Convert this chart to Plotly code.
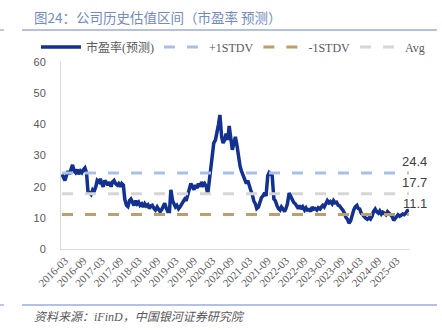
import pandas as pd
import plotly.graph_objects as go

# ---- data (semi-monthly readings, 1st & 15th of each month) ----
pe_2016 = [24, 23, 22, 23.5, 25, 24, 26, 27, 25, 24.5, 25.5, 24, 25, 24.5, 25.5, 26, 24.5, 18.5, 18, 17.5, 19, 18.5]
pe_2017 = [20, 22, 21.5, 22.5, 21, 20, 22, 21, 20.5, 21.5, 20, 21.5, 22, 21, 20.5, 21, 20, 21, 20.5, 16, 14, 13.6, 15.5, 16]
pe_2018 = [15, 14, 15.5, 14.5, 15, 14, 14.5, 13.5, 14.5, 13.8, 14.2, 13, 13.8, 14, 13, 12.5, 13.5, 12.8, 12, 12.6, 13.5, 14.7, 13, 12]
pe_2019 = [12, 19, 15.5, 14.7, 13.5, 14, 12.9, 13.5, 14.5, 15, 16, 15.5, 17, 19, 21, 20, 19, 20.5, 19.5, 21, 20, 21.5, 20.5, 21]
pe_2020 = [20, 17.5, 22, 25, 31, 34, 35, 37, 40, 43, 36, 34, 35, 37, 35, 39.5, 34, 31.8, 34, 36, 33, 29, 26.5, 25]
pe_2021 = [23.5, 22, 21, 22, 20, 19, 17.5, 15.5, 14.5, 13, 13.5, 15, 16.5, 17, 18, 17, 23.5, 24.5, 24, 23.5, 16, 15.5, 14, 13]
pe_2022 = [12.5, 13.5, 12.8, 12, 13, 14.5, 18, 17, 16, 15, 14.5, 13.5, 13, 14, 12.8, 13.5, 12.5, 13.2, 12.2, 13, 12, 13.5, 12.8, 13]
pe_2023 = [12.5, 13.2, 12.8, 13.5, 14, 13.5, 14.5, 15.5, 14.8, 15.2, 14.5, 15.5, 14.8, 15, 14, 13.8, 13, 12.5, 11.5, 10.2, 9.5, 8.3, 9, 11]
pe_2024 = [12.5, 13.5, 14, 13, 12.8, 11.5, 10.8, 10.4, 9.8, 9.5, 10, 9.6, 10.5, 12, 12.8, 12, 11.5, 12.2, 11.2, 11.8, 11.5, 11, 12, 11.5]
pe_2025 = [11, 10.5, 9.2, 9.8, 10.5, 11, 10.5, 10.8, 11.2, 11, 11.5, 12.3, 12.5]

pe_values = pe_2016 + pe_2017 + pe_2018 + pe_2019 + pe_2020 + pe_2021 + pe_2022 + pe_2023 + pe_2024 + pe_2025
dates = pd.date_range("2016-02-01", periods=len(pe_values), freq="SMS")

plus_std = 24.4
average = 17.7
minus_std = 11.1

series_names = ["市盈率(预测)", "+1STDV", "-1STDV", "Avg"]

# ---- styles ----
SERIF = "Liberation Serif, Times New Roman, Noto Sans CJK SC, serif"
SANS = "Liberation Sans, Arial, Noto Sans CJK SC, sans-serif"
CJK = "Noto Sans CJK SC, sans-serif"
GREY = "#595959"

fig = go.Figure()
fig.add_trace(go.Scatter(x=dates, y=pe_values, mode="lines", name=series_names[0],
                         line=dict(color="#123190", width=3.5)))
fig.add_trace(go.Scatter(x=dates, y=[plus_std] * len(dates), mode="lines", name=series_names[1],
                         line=dict(color="#a9bfe8", width=3, dash="11px,12px")))
fig.add_trace(go.Scatter(x=dates, y=[minus_std] * len(dates), mode="lines", name=series_names[2],
                         line=dict(color="#c29d68", width=3, dash="11px,12px")))
fig.add_trace(go.Scatter(x=dates, y=[average] * len(dates), mode="lines", name=series_names[3],
                         line=dict(color="#d6d6d6", width=3, dash="11px,12px")))

# value labels at the right end of the band lines
for v in (plus_std, average, minus_std):
    fig.add_annotation(x=dates[-1], y=v, text=f"{v}", showarrow=False,
                       xanchor="center", yanchor="middle", xshift=6, yshift=11,
                       font=dict(family=SANS, size=13, color="#404040"))

# title, rules and source
fig.add_annotation(xref="paper", yref="paper", x=-0.0833, y=1.2406, xanchor="left", yanchor="middle",
                   text="图24：公司历史估值区间（市盈率 预测）", showarrow=False,
                   font=dict(family=CJK, size=13.5, color="#728bc2"))
fig.add_annotation(xref="paper", yref="paper", x=-0.0833, y=-0.3636, xanchor="left", yanchor="middle",
                   text="<i>资料来源：iFinD，中国银河证券研究院</i>", showarrow=False,
                   font=dict(family=SERIF, size=12, color=GREY))
for yy in (1.1711, -0.2995):
    fig.add_shape(type="line", xref="paper", yref="paper", x0=-0.1121, x1=1.0805, y0=yy, y1=yy,
                  line=dict(color="#9aaed8", width=1.3))
    fig.add_shape(type="line", xref="paper", yref="paper", x0=-0.1753, x1=-0.1638, y0=yy, y1=yy,
                  line=dict(color="#9aaed8", width=1.3))

fig.update_layout(
    width=442, height=330,
    margin=dict(l=61, r=33, t=62, b=81),
    paper_bgcolor="white", plot_bgcolor="white",
    showlegend=True,
    legend=dict(orientation="h", x=-0.072, xanchor="left", y=1.08, yanchor="middle",
                font=dict(family=SERIF, size=12, color=GREY), bgcolor="rgba(0,0,0,0)",
                borderwidth=0, tracegroupgap=0, itemwidth=40),
    xaxis=dict(type="date", range=["2016-01-22", "2025-07-02"], showgrid=False, zeroline=False,
               showline=True, linecolor="#d9d9d9", linewidth=1, ticks="",
               tick0="2016-03-01", dtick="M6", tickformat="%Y-%m", tickangle=-45,
               tickfont=dict(family=SERIF, size=11, color=GREY)),
    yaxis=dict(range=[0, 60], dtick=10, showgrid=False, zeroline=False,
               showline=True, linecolor="#d9d9d9", linewidth=1, ticks="",
               ticklabelstandoff=12, tickfont=dict(family=SANS, size=11, color=GREY)),
)

fig.write_html("out.html")
